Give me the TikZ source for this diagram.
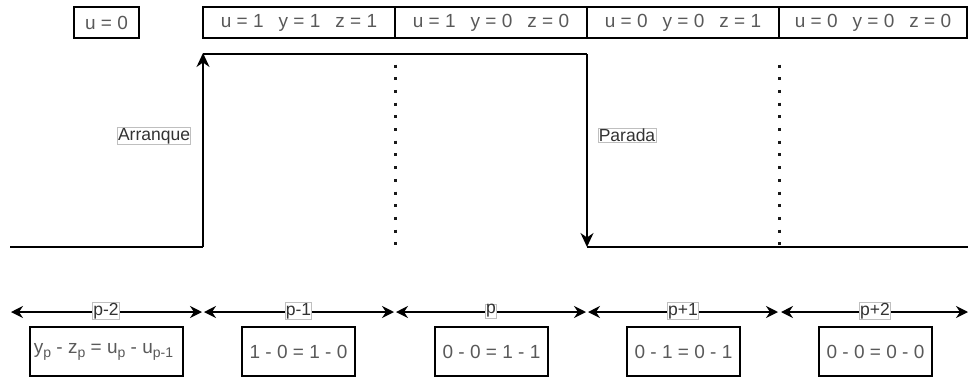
\documentclass[tikz,border=0pt]{standalone}
\usepackage{fontspec}
\setmainfont{Liberation Sans}
\usetikzlibrary{arrows.meta}

\begin{document}
\begin{tikzpicture}[x=1pt,y=-1pt,
  txt/.style={font=\fontsize{19}{22}\selectfont, text=black!65},
  statebox/.style={txt, draw, line width=1.2pt, minimum height=31pt, inner sep=0pt},
  eqbox/.style={txt, draw, line width=1.2pt, minimum height=49pt, minimum width=113pt, inner sep=0pt},
  tag/.style={font=\fontsize{17.5}{20}\selectfont, text=black!80, draw=black!25, fill=white, inner sep=0.6pt, line width=0.6pt},
  sig/.style={line width=1.6pt},
  rise/.style={sig, -{Stealth[length=14pt,width=13pt,inset=4.5pt]}},
  span/.style={line width=1.6pt, {Stealth[length=12pt,width=12pt,inset=4pt]}-{Stealth[length=12pt,width=12pt,inset=4pt]}},
  dots/.style={line width=3pt, dash pattern=on 3pt off 9.7pt, black!90}]

  \useasboundingbox (0,0) rectangle (968,378);
  \newcommand{\gp}{\hspace{15pt}}
  \newcommand{\sbs}[1]{\raisebox{-4pt}{\fontsize{14}{14}\selectfont #1}}

  % states of u, y, z over the periods
  \node[statebox, minimum width=65pt] (s0) at (106.5,22.5) {u = 0};
  \node[statebox, minimum width=192pt] (s1) at (299,22.5) {u = 1\gp y = 1\gp z = 1};
  \node[statebox, minimum width=192pt] (s2) at (491,22.5) {u = 1\gp y = 0\gp z = 0};
  \node[statebox, minimum width=192pt] (s3) at (683,22.5) {u = 0\gp y = 0\gp z = 1};
  \node[statebox, minimum width=188pt] (s4) at (873,22.5) {u = 0\gp y = 0\gp z = 0};

  % signal corners
  \coordinate (l0) at (10,247);
  \coordinate (l1) at (203,247);
  \coordinate (h1) at (203,53);
  \coordinate (h0) at (203,54);
  \coordinate (h2) at (587,54);
  \coordinate (l2) at (587,247);
  \coordinate (l3) at (968,247);
  \coordinate (d1a) at (395,64.5);
  \coordinate (d1b) at (395,249);
  \coordinate (d2a) at (779,64.5);
  \coordinate (d2b) at (779,249);

  \draw[sig] (l0) -- (l1);
  \draw[rise] (l1) -- (h1);
  \draw[sig] (h0) -- (h2);
  \draw[rise] (h2) -- (l2);
  \draw[sig] (l2) -- (l3);
  \draw[dots] (d1a) -- (d1b);
  \draw[dots] (d2a) -- (d2b);

  \node[tag] (arr) at (154,136) {Arranque};
  \node[tag] (par) at (627,135) {Parada};

  % period spans
  \coordinate (a0) at (11,312);
  \coordinate (a1) at (202,312);
  \coordinate (b0) at (204,312);
  \coordinate (b1) at (394,312);
  \coordinate (c0) at (396,312);
  \coordinate (c1) at (586,312);
  \coordinate (e0) at (588,312);
  \coordinate (e1) at (778,312);
  \coordinate (f0) at (781,312);
  \coordinate (f1) at (968,312);
  \draw[span] (a0) -- (a1);
  \draw[span] (b0) -- (b1);
  \draw[span] (c0) -- (c1);
  \draw[span] (e0) -- (e1);
  \draw[span] (f0) -- (f1);
  \node[tag] (p2m) at (106,311) {p-2};
  \node[tag] (p1m) at (298.5,311) {p-1};
  \node[tag] (p0) at (491,311) {p};
  \node[tag] (p1p) at (683,311) {p+1};
  \node[tag] (p2p) at (875,311) {p+2};

  % balance equation per period
  \node[eqbox, minimum width=153pt] (q0) at (106.5,351.5) {\hspace{-6pt}y\sbs{p} - z\sbs{p} = u\sbs{p} - u\sbs{p-1}\hspace{-6pt}};
  \node[eqbox] (q1) at (298.5,351.5) {1 - 0 = 1 - 0};
  \node[eqbox] (q2) at (491.5,351.5) {0 - 0 = 1 - 1};
  \node[eqbox] (q3) at (683.5,351.5) {0 - 1 = 0 - 1};
  \node[eqbox] (q4) at (875.5,351.5) {0 - 0 = 0 - 0};
\end{tikzpicture}
\end{document}
